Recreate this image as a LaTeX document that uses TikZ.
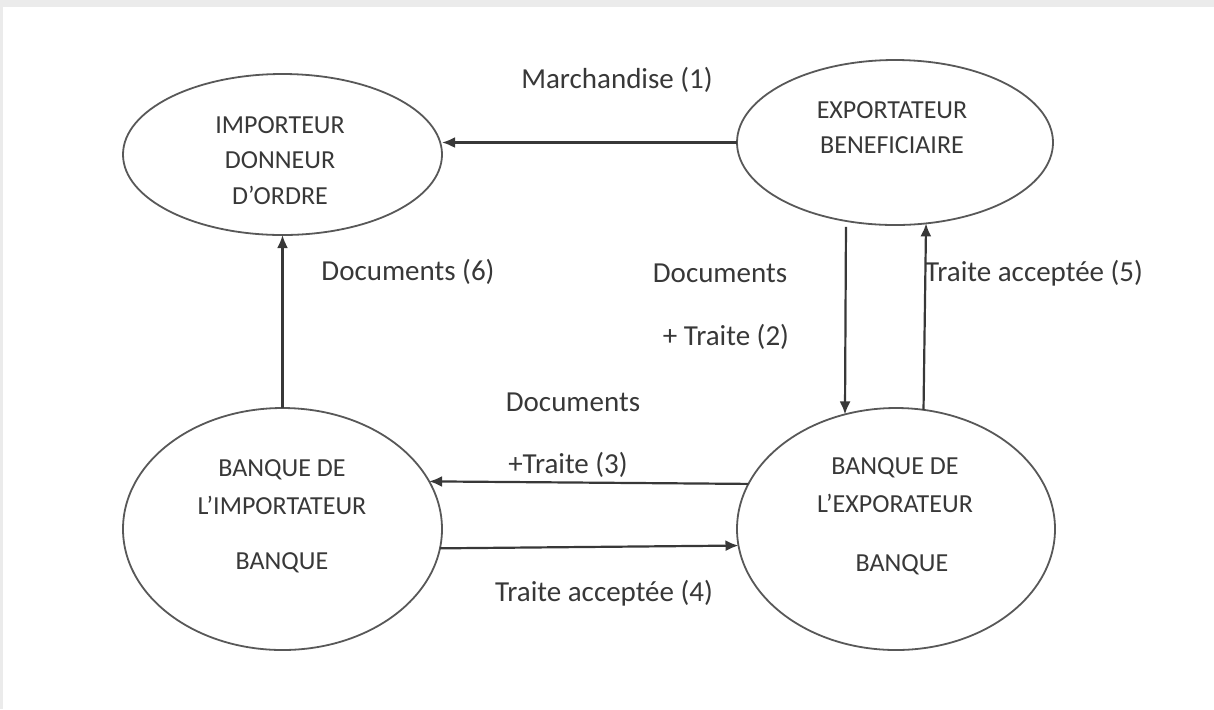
\documentclass[tikz,border=0pt]{standalone}
\usepackage{fontspec}
\setmainfont{Carlito}
\usetikzlibrary{shapes.geometric,arrows.meta}
\definecolor{ink}{HTML}{383838}
\definecolor{rim}{HTML}{585858}
\definecolor{framegray}{HTML}{EBEBEB}
\begin{document}
\begin{tikzpicture}[x=0.5pt,y=-0.5pt,
  party/.style={draw=rim, line width=0.9pt, ellipse, inner sep=0pt, outer sep=0pt},
  flow/.style={draw=ink, line width=1.1pt, -{Latex[length=6.5pt,width=5.5pt]}},
  tag/.style={text=ink, font=\fontsize{14.5}{17}\selectfont, inner sep=0pt},
  intext/.style={text=ink, font=\fontsize{13}{15}\selectfont, inner sep=0pt},
]
\useasboundingbox (0,0) rectangle (1214,709);
% page frame
\fill[framegray] (0,0) rectangle (1214,7);
\fill[framegray] (0,0) rectangle (3,709);

% the four parties
\node[party, minimum width=159.5pt, minimum height=80.5pt] (imp) at (282.5,154.5) {};
\node[party, minimum width=158pt, minimum height=82.5pt] (exp) at (895,142.5) {};
\node[party, minimum width=159.5pt, minimum height=121pt] (bimp) at (282.5,529) {};
\node[party, minimum width=159pt, minimum height=121pt] (bexp) at (896,529) {};

% texts inside the ellipses
\node[intext] (imp1) at (280,125) {IMPORTEUR};
\node[intext] (imp2) at (280,160) {DONNEUR};
\node[intext] (imp3) at (280,195) {D’ORDRE};
\node[intext] (exp1) at (892,110) {EXPORTATEUR};
\node[intext] (exp2) at (892,145) {BENEFICIAIRE};
\node[intext] (bimp1) at (282,470) {BANQUE DE};
\node[intext] (bimp2) at (282,505) {L’IMPORTATEUR};
\node[intext] (bimp3) at (282,563) {BANQUE};
\node[intext] (bexp1) at (895,468) {BANQUE DE};
\node[intext] (bexp2) at (895,503) {L’EXPORATEUR};
\node[intext] (bexp3) at (902,565) {BANQUE};

% flows
\draw[flow] (exp.west) -- (exp.west -| imp.east);
\draw[flow] (bimp.north) -- (imp.south);
\draw[flow, shorten <=3pt] (exp.238) -- (bexp.114.9);
\draw[flow] (bexp.77.2) -- (exp.291.6);
\draw[flow] (bexp.163.5) -- (bimp.18.7);
\draw[flow] (bimp.353.6) -- (bexp.186.7);

% flow labels
\node[tag] (l1) at (617,80) {Marchandise (1)};
\node[tag] (l6) at (408,272) {Documents (6)};
\node[tag] (l2a) at (720,273) {Documents};
\node[tag] (l2b) at (726,337) {+ Traite (2)};
\node[tag] (l5) at (1034,273) {Traite acceptée (5)};
\node[tag] (l3a) at (573,402) {Documents};
\node[tag] (l3b) at (568,465) {+Traite (3)};
\node[tag] (l4) at (604,593) {Traite acceptée (4)};
\end{tikzpicture}
\end{document}
